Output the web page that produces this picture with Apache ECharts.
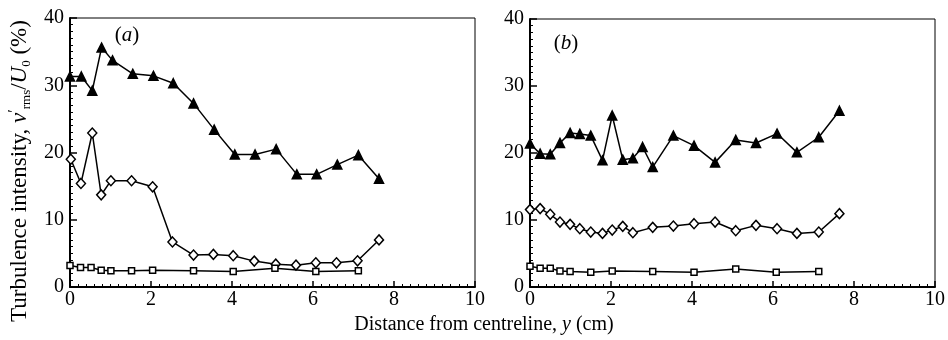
<!DOCTYPE html>
<html>
<head>
<meta charset="utf-8">
<script src="https://cdn.jsdelivr.net/npm/echarts@6/dist/echarts.min.js"></script>
<style>
  html, body { margin: 0; padding: 0; background: #fff; }
  #chart { width: 948px; height: 340px; }
</style>
</head>
<body>
<div id="chart"></div>
<script>
// Panel (a): distance from centreline (cm) and turbulence intensity (%)
const triXA = [0, 0.28, 0.55, 0.78, 1.05, 1.55, 2.06, 2.55, 3.05, 3.56, 4.07, 4.57, 5.09, 5.6, 6.09, 6.6, 7.12, 7.63];
const triYA = [31.3, 31.3, 29.2, 35.6, 33.7, 31.7, 31.4, 30.3, 27.3, 23.4, 19.7, 19.7, 20.5, 16.75, 16.75, 18.2, 19.6, 16.1];
const diaXA = [0.02, 0.27, 0.55, 0.77, 1.01, 1.52, 2.04, 2.53, 3.05, 3.54, 4.03, 4.55, 5.08, 5.58, 6.07, 6.58, 7.1, 7.63];
const diaYA = [19.0, 15.4, 22.9, 13.7, 15.8, 15.8, 14.9, 6.7, 4.75, 4.85, 4.65, 3.85, 3.4, 3.25, 3.6, 3.6, 3.9, 7.0];
const sqXA = [0, 0.26, 0.52, 0.77, 1.01, 1.52, 2.04, 3.05, 4.03, 5.06, 6.07, 7.12];
const sqYA = [3.2, 2.9, 2.9, 2.5, 2.4, 2.4, 2.5, 2.4, 2.3, 2.8, 2.3, 2.4];

// Panel (b)
const triXB = [0, 0.25, 0.5, 0.74, 0.99, 1.23, 1.5, 1.79, 2.03, 2.29, 2.54, 2.78, 3.03, 3.54, 4.05, 4.57, 5.08, 5.58, 6.1, 6.59, 7.13, 7.64];
const triYB = [21.4, 19.9, 19.8, 21.5, 23.0, 22.85, 22.6, 18.9, 25.6, 19.0, 19.2, 20.9, 17.9, 22.6, 21.1, 18.6, 21.95, 21.5, 22.9, 20.1, 22.35, 26.3];
const diaXB = [0, 0.25, 0.5, 0.74, 0.99, 1.23, 1.5, 1.79, 2.03, 2.29, 2.54, 3.03, 3.54, 4.05, 4.57, 5.08, 5.58, 6.1, 6.59, 7.13, 7.64];
const diaYB = [11.55, 11.7, 10.85, 9.7, 9.35, 8.7, 8.2, 8.0, 8.5, 9.05, 8.1, 8.9, 9.1, 9.45, 9.7, 8.4, 9.2, 8.7, 8.0, 8.2, 10.95];
const sqXB = [0, 0.25, 0.5, 0.74, 0.99, 1.5, 2.03, 3.03, 4.05, 5.08, 6.08, 7.13];
const sqYB = [3.1, 2.8, 2.8, 2.4, 2.3, 2.2, 2.4, 2.3, 2.2, 2.7, 2.2, 2.3];

const panelLabels = ['a', 'b'];
const xTitle = 'Distance from centreline, ';

const FONT = '"Liberation Serif", "DejaVu Serif", serif';
const zip = (xs, ys) => xs.map((x, i) => [x, ys[i]]);

function xAxisFor(gi) {
  return {
    gridIndex: gi, type: 'value', min: 0, max: 10, interval: 2,
    axisLine: { show: true, lineStyle: { color: '#000', width: 2 } },
    axisTick: { show: true, inside: true, length: 6, lineStyle: { color: '#000', width: 1.5 } },
    minorTick: { show: true, splitNumber: 10, length: 3, lineStyle: { color: '#000', width: 1 } },
    axisLabel: { color: '#000', fontFamily: FONT, fontSize: 20, margin: 3 },
    splitLine: { show: false }
  };
}
function yAxisFor(gi) {
  return {
    gridIndex: gi, type: 'value', min: 0, max: 40, interval: 10,
    axisLine: { show: true, lineStyle: { color: '#000', width: 2 } },
    axisTick: { show: true, inside: true, length: 7, lineStyle: { color: '#000', width: 1.5 } },
    minorTick: { show: true, splitNumber: 10, length: 3, lineStyle: { color: '#000', width: 1 } },
    axisLabel: { color: '#000', fontFamily: FONT, fontSize: 20, margin: 6 },
    splitLine: { show: false }
  };
}
function line(gi, data, symbol, size, filled) {
  return {
    type: 'line', xAxisIndex: gi, yAxisIndex: gi, data: data,
    symbol: symbol, symbolSize: size, showAllSymbol: true, clip: false,
    lineStyle: { color: '#000', width: 1.5 },
    itemStyle: { color: filled ? '#000' : '#fff', borderColor: '#000', borderWidth: 1.5 },
    z: 3, animation: false
  };
}

const chart = echarts.init(document.getElementById('chart'), null, { renderer: 'canvas' });
chart.setOption({
  backgroundColor: '#fff',
  animation: false,
  grid: [
    { left: 70, top: 18, width: 405, height: 269, show: true, borderColor: '#000', borderWidth: 1 },
    { left: 530, top: 19, width: 405, height: 268, show: true, borderColor: '#000', borderWidth: 1 }
  ],
  xAxis: [xAxisFor(0), xAxisFor(1)],
  yAxis: [yAxisFor(0), yAxisFor(1)],
  series: [
    line(0, zip(triXA, triYA), 'triangle', 9, true),
    line(0, zip(diaXA, diaYA), 'diamond', [9, 10], false),
    line(0, zip(sqXA, sqYA), 'rect', 6, false),
    line(1, zip(triXB, triYB), 'triangle', 9, true),
    line(1, zip(diaXB, diaYB), 'diamond', [9, 10], false),
    line(1, zip(sqXB, sqYB), 'rect', 6, false)
  ],
  graphic: [
    {
      type: 'text', x: 20, y: 171, rotation: Math.PI / 2,
      style: {
        text: '{n|Turbulence intensity, }{i|v}{p|′}{s|rms}{n|/}{i|U}{s|0}{n| (%)}',
        align: 'center', verticalAlign: 'middle',
        rich: {
          n: { fontFamily: FONT, fontSize: 23, fill: '#000', lineHeight: 26 },
          i: { fontFamily: FONT, fontSize: 23, fontStyle: 'italic', fill: '#000', lineHeight: 26 },
          p: { fontFamily: FONT, fontSize: 16, fill: '#000', lineHeight: 26, verticalAlign: 'top' },
          s: { fontFamily: FONT, fontSize: 13, fill: '#000', lineHeight: 15, verticalAlign: 'bottom' }
        }
      }
    },
    {
      type: 'text', x: 484, y: 325,
      style: {
        text: '{n|' + xTitle + '}{i|y}{n| (cm)}',
        align: 'center', verticalAlign: 'middle',
        rich: {
          n: { fontFamily: FONT, fontSize: 20, fill: '#000' },
          i: { fontFamily: FONT, fontSize: 20, fontStyle: 'italic', fill: '#000' }
        }
      }
    },
    {
      type: 'text', x: 127, y: 35,
      style: {
        text: '{n|(}{i|' + panelLabels[0] + '}{n|)}',
        align: 'center', verticalAlign: 'middle',
        rich: {
          n: { fontFamily: FONT, fontSize: 21, fill: '#000' },
          i: { fontFamily: FONT, fontSize: 21, fontStyle: 'italic', fill: '#000' }
        }
      }
    },
    {
      type: 'text', x: 566, y: 43,
      style: {
        text: '{n|(}{i|' + panelLabels[1] + '}{n|)}',
        align: 'center', verticalAlign: 'middle',
        rich: {
          n: { fontFamily: FONT, fontSize: 21, fill: '#000' },
          i: { fontFamily: FONT, fontSize: 21, fontStyle: 'italic', fill: '#000' }
        }
      }
    }
  ]
});
</script>
</body>
</html>
